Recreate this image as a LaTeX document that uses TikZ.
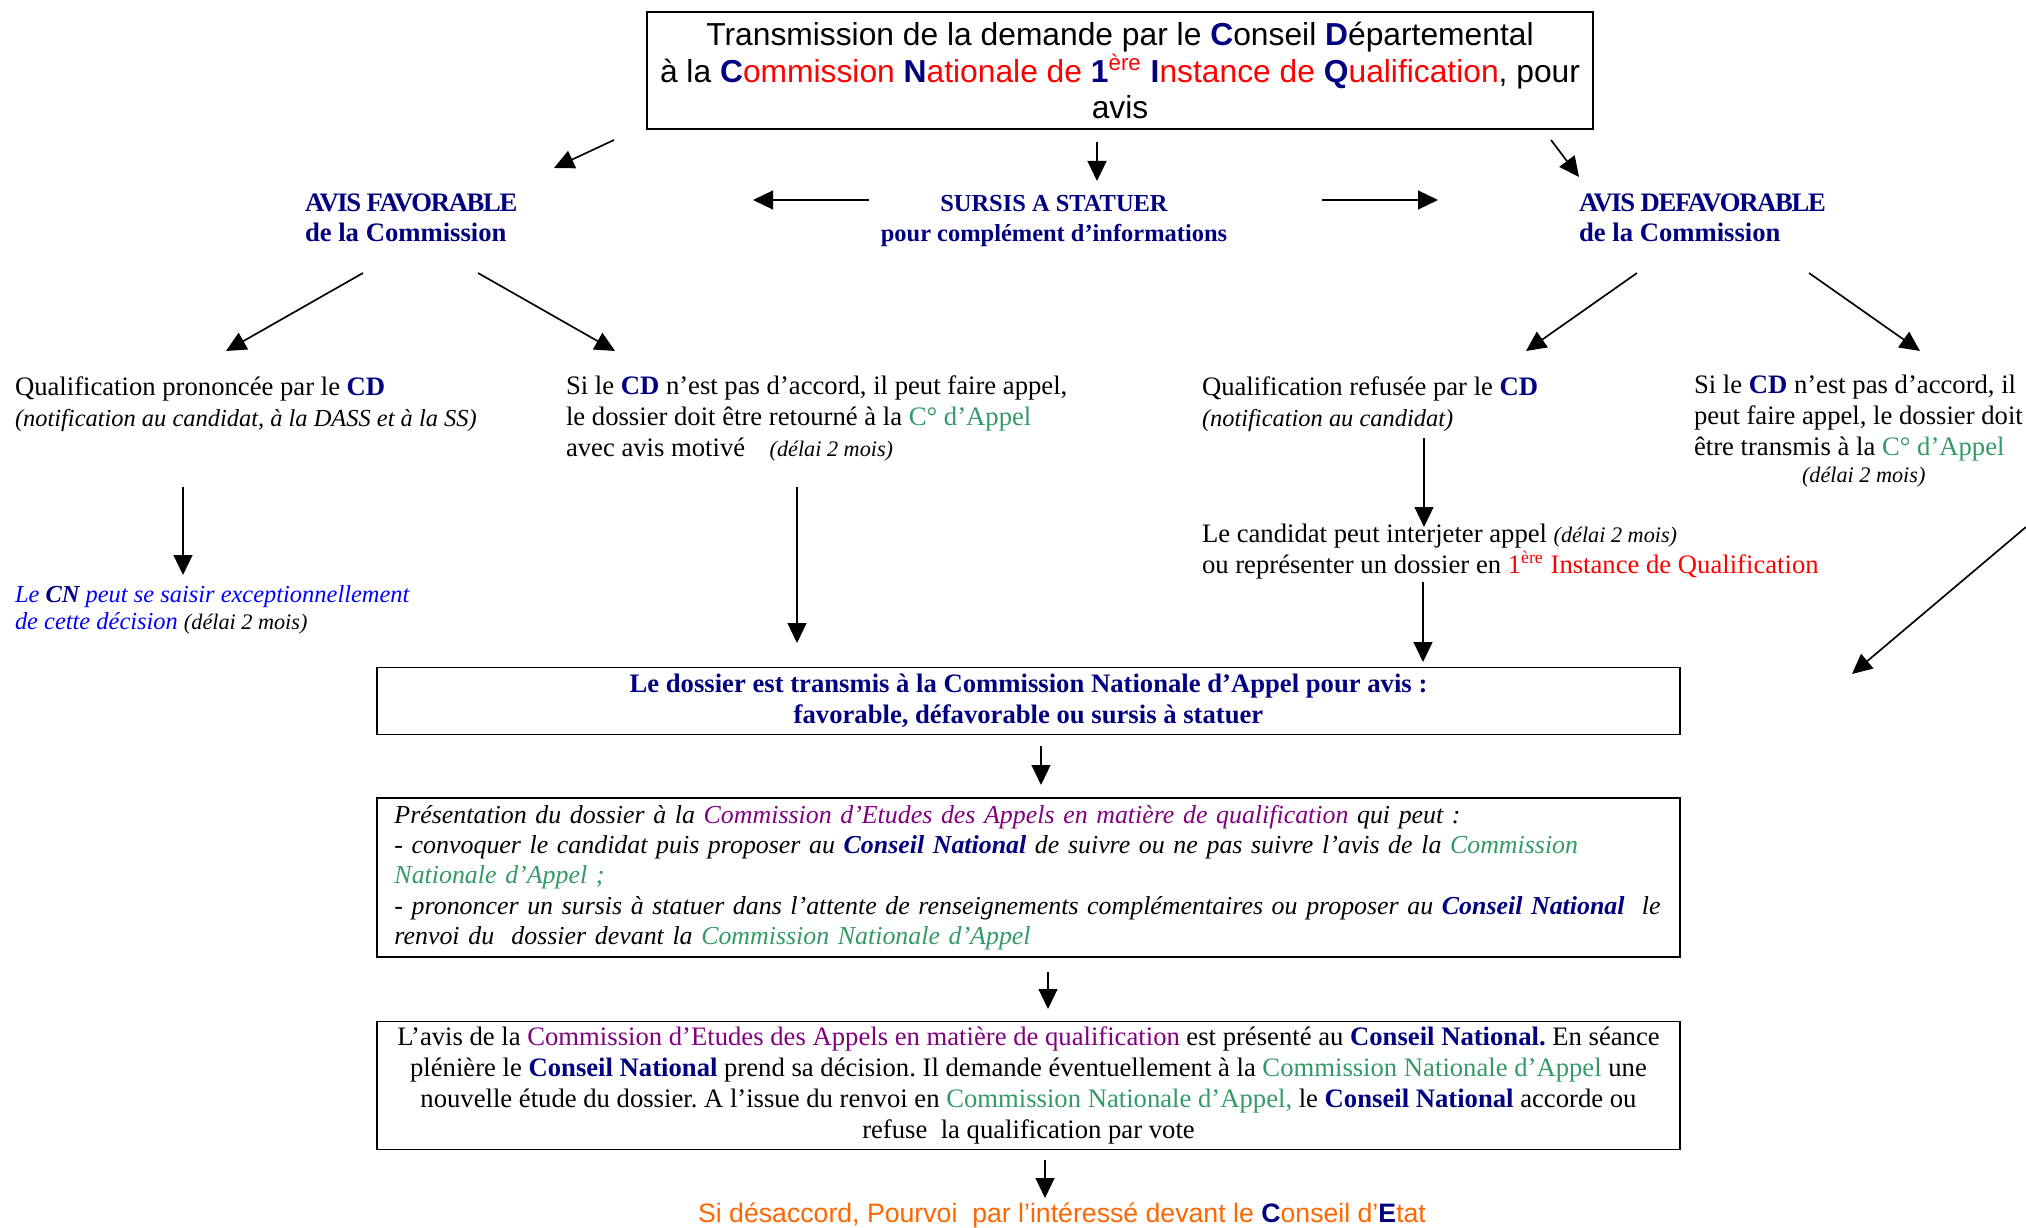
\documentclass[tikz,border=0pt]{standalone}
\usepackage{fontspec}
\setmainfont{Liberation Serif}
\newfontfamily\arialf{Liberation Sans}
\usetikzlibrary{arrows.meta}
\definecolor{navyc}{HTML}{000080}
\definecolor{redc}{HTML}{FF0000}
\definecolor{greenc}{HTML}{339966}
\definecolor{purplec}{HTML}{800080}
\definecolor{bluec}{HTML}{0000FF}
\definecolor{orangec}{HTML}{FF6600}
\newcommand{\nvb}[1]{\textbf{\textcolor{navyc}{#1}}}
\newcommand{\grn}[1]{\textcolor{greenc}{#1}}
\newcommand{\prp}[1]{\textcolor{purplec}{#1}}
\newcommand{\rdt}[1]{\textcolor{redc}{#1}}
\newcommand{\dlai}{{\fontsize{10}{12}\selectfont\itshape(délai 2 mois)}}
\newcommand{\twelve}{\fontsize{12}{13.9}\selectfont}
\newcommand{\tightcaps}[1]{{\addfontfeature{LetterSpace=-5}#1}}
\frenchspacing
\begin{document}
\begin{tikzpicture}[x=0.45pt,y=-0.45pt,
  txt/.style={inner sep=0pt, outer sep=0pt, font=\twelve, align=left, anchor=base west},
  hdr/.style={txt, font=\twelve\bfseries, text=navyc},
  frame/.style={draw, line width=0.8pt, inner sep=0pt, minimum width=586.35pt},
  arr/.style={line width=0.75pt, -{Triangle[length=9pt,width=8.5pt]}},
  ]
\useasboundingbox (0,0) rectangle (2026,1228);

% top box
\node[draw, line width=0.9pt, minimum width=425.7pt, minimum height=52.65pt, inner sep=0pt,
      align=center, font=\arialf\fontsize{14.3}{16.6}\selectfont] (top) at (1120,70.5)
 {Transmission de la demande par le \nvb{C}onseil \nvb{D}épartemental\\
  à la \nvb{C}\rdt{ommission }\nvb{N}\rdt{ationale de }\nvb{1}\rdt{\textsuperscript{ère} }\nvb{I}\rdt{nstance de }\nvb{Q}\rdt{ualification}, pour\\
  avis};

% headers (anchor = baseline of last line)
\node[hdr] (fav) at (305,242) {\tightcaps{AVIS FAVORABLE}\\de la Commission};
\node[hdr, font=\fontsize{11}{13.6}\selectfont\bfseries, align=center, anchor=base] (sur) at (1054,242) {SURSIS A STATUER\\pour complément d’informations};
\node[hdr] (def) at (1579,242) {\tightcaps{AVIS DEFAVORABLE}\\de la Commission};

% row texts
\node[txt] (qp) at (15,426) {Qualification prononcée par le \nvb{CD}\\{\fontsize{11}{13.9}\selectfont\itshape(notification au candidat, à la DASS et à la SS)}};
\node[txt] (sicd1) at (566,456) {Si le \nvb{CD} n’est pas d’accord, il peut faire appel,\\le dossier doit être retourné à la \grn{C° d’Appel}\\avec avis motivé\hspace{11pt}\dlai};
\node[txt] (qr) at (1202,426) {Qualification refusée par le \nvb{CD}\\{\fontsize{11}{13.9}\selectfont\itshape(notification au candidat)}};
\node[txt] (sicd2) at (1694,482) {Si le \nvb{CD} n’est pas d’accord, il\\peut faire appel, le dossier doit\\être transmis à la \grn{C° d’Appel}\\[-2pt]\hspace*{48.6pt}\dlai};

\node[txt, font=\fontsize{11}{12}\selectfont\itshape, text=bluec] (cn) at (15,629) {Le \nvb{CN} peut se saisir exceptionnellement\\de cette décision \textcolor{black}{\dlai}};
\node[txt] (cand) at (1202,573) {Le candidat peut interjeter appel \dlai\\ou représenter un dossier en \rdt{1\textsuperscript{ère} Instance de Qualification}};

% boxes
\node[frame, minimum height=30.15pt, align=center, font=\twelve\bfseries, text=navyc] (cna) at (1028.5,701)
 {Le dossier est transmis à la Commission Nationale d’Appel pour avis :\\favorable, défavorable ou sursis à statuer};

\node[frame, minimum height=71.55pt, inner xsep=7.6pt, text width=570.6pt, align=left, font=\fontsize{11.65}{13.6}\selectfont\itshape] (cea) at (1028.5,877.5)
 {Présentation du dossier à la \prp{Commission d’Etudes des Appels en matière de qualification} qui peut :\\
  - convoquer le candidat puis proposer au \nvb{Conseil National} de suivre ou ne pas suivre l’avis de la \grn{Commission}\\
  \grn{Nationale d’Appel ;}\\
  \makebox[\linewidth][s]{- prononcer un sursis à statuer dans l’attente de renseignements complémentaires ou proposer au \nvb{Conseil National}\ \ le}\\
  renvoi du\ \ dossier devant la \grn{Commission Nationale d’Appel}};

\node[frame, minimum height=57.6pt, align=center, font=\twelve] (cnat) at (1028.5,1085.5)
 {L’avis de la \prp{Commission d’Etudes des Appels en matière de qualification} est présenté au \nvb{Conseil National.} En séance\\
  plénière le \nvb{Conseil National} prend sa décision. Il demande éventuellement à la \grn{Commission Nationale d’Appel} une\\
  nouvelle étude du dossier. A l’issue du renvoi en \grn{Commission Nationale d’Appel,} le \nvb{Conseil National} accorde ou\\
  refuse\ \ la qualification par vote};

\node[anchor=base, inner sep=0pt, font=\arialf\fontsize{12}{14}\selectfont, text=orangec] (ce) at (1062,1222)
 {Si désaccord, Pourvoi\ \ par l’intéressé devant le \nvb{C}onseil d’\nvb{E}tat};

% arrow end points
\coordinate (t1s) at (614,140);  \coordinate (t1e) at (554,168);
\coordinate (t2s) at (1097,142); \coordinate (t2e) at (1097,181);
\coordinate (t3s) at (1551,140); \coordinate (t3e) at (1579,177);
\coordinate (h1s) at (869,200);  \coordinate (h1e) at (753,200);
\coordinate (h2s) at (1322,200); \coordinate (h2e) at (1438,200);
\coordinate (f1s) at (363,273);  \coordinate (f1e) at (226,351);
\coordinate (f2s) at (478,273);  \coordinate (f2e) at (615,351);
\coordinate (d1s) at (1637,273); \coordinate (d1e) at (1526,351);
\coordinate (d2s) at (1809,273); \coordinate (d2e) at (1920,351);
\coordinate (v1s) at (183,487);  \coordinate (v1e) at (183,575);
\coordinate (v2s) at (797,487);  \coordinate (v2e) at (797,643);
\coordinate (v3s) at (1424,438); \coordinate (v3e) at (1424,527);
\coordinate (v4s) at (1423,582); \coordinate (v4e) at (1423,662);
\coordinate (dgs) at (2026,527); \coordinate (dge) at (1852,674);
\coordinate (b1s) at (1041,746); \coordinate (b1e) at (1041,785);
\coordinate (b2s) at (1048,972); \coordinate (b2e) at (1048,1009);
\coordinate (b3s) at (1045,1160); \coordinate (b3e) at (1045,1198);

\foreach \a in {t1,t2,t3,h1,h2,f1,f2,d1,d2,v1,v2,v3,v4,dg,b1,b2,b3}
  \draw[arr] (\a s) -- (\a e);
\end{tikzpicture}
\end{document}
